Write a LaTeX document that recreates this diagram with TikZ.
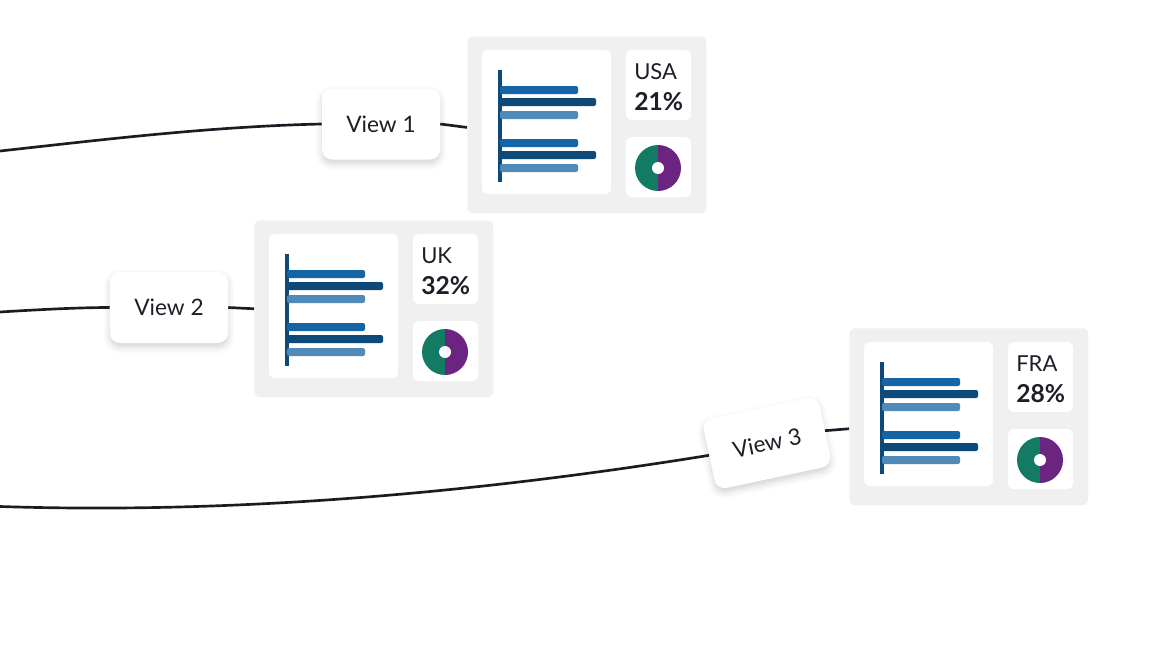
\documentclass[tikz,border=0pt]{standalone}
\usepackage{fontspec}
\setmainfont{Lato}
\usetikzlibrary{shadows.blur}

\definecolor{garis}{HTML}{1B1B23}
\definecolor{teks}{HTML}{1E1E28}
\definecolor{abu}{HTML}{F0F0F0}
\definecolor{biruA}{HTML}{1565A6}
\definecolor{biruB}{HTML}{0D4A7A}
\definecolor{biruC}{HTML}{4F8AB9}
\definecolor{hijau}{HTML}{137A63}
\definecolor{ungu}{HTML}{6B2480}

\tikzset{
  kartubg/.style={anchor=north west, fill=abu, rounded corners=4.5pt, inner sep=0pt,
    minimum width=179.25pt, minimum height=132.75pt},
  panel/.style={fill=white, rounded corners=4.5pt},
  viewbox/.style={fill=white, rounded corners=7.5pt, minimum width=88.5pt, minimum height=53.25pt,
    text=teks, font=\fontsize{17}{20}\selectfont,
    blur shadow={shadow xshift=0pt, shadow yshift=-3pt, shadow blur radius=5pt, shadow opacity=18}},
  negara/.style={anchor=base west, inner sep=0pt, text=teks, font=\fontsize{16.5}{19}\selectfont},
  persen/.style={anchor=base west, inner sep=0pt, text=teks, font=\fontsize{18.5}{22}\selectfont\bfseries},
  garisview/.style={draw=garis, line width=2pt}
}

% kartu: nama, x, y, negara, persen
\newcommand{\kartu}[5]{%
  \begin{scope}[shift={(#2,#3)}]
    \node[kartubg] (#1) at (0,0) {};
    % panel putih
    \fill[panel] (15,14) rectangle (144,158);
    \fill[panel] (159,14) rectangle (224,84);
    \fill[panel] (159,101) rectangle (224,161);
    % grafik batang
    \fill[biruB] (31,34) rectangle (35,146);
    \foreach \y/\w/\c in {54/111/biruA, 66/129/biruB, 79/111/biruC,
                          107/111/biruA, 119/129/biruB, 132/111/biruC}
      \fill[\c, rounded corners=1.5pt] (33,\y-4) rectangle (\w,\y+4);
    % teks
    \node[negara] (#1-n) at (167,43) {#4};
    \node[persen] (#1-p) at (167,74) {#5};
    % donat
    \fill[hijau] (191,132) ++(90:23) arc (90:270:23) -- cycle;
    \fill[ungu] (191,132) ++(270:23) arc (270:450:23) -- cycle;
    \fill[white] (191,132) circle (6);
  \end{scope}}

\begin{document}
\begin{tikzpicture}[x=0.75pt, y=-0.75pt]
  \useasboundingbox (0,0) rectangle (1171,646);

  % Kartu
  \kartu{k1}{467}{36}{USA}{21\%}
  \kartu{k2}{254}{220}{UK}{32\%}
  \kartu{k3}{849}{328}{FRA}{28\%}

  % View
  \node[viewbox] (v1) at (381,124) {View 1};
  \node[viewbox] (v2) at (169,307.5) {View 2};
  \node[viewbox, rotate=12] (v3) at (767,443) {View 3};

  % Garis
  \coordinate (a1) at (0,151);
  \coordinate (a2) at (0,312);
  \coordinate (a3) at (0,506.5);
  \draw[garisview] (a1) .. controls (100,140) and (210,126.5) .. (v1.west);
  \draw[garisview] (v1.east) -- ([yshift=-2pt]k1.west);
  \draw[garisview] (a2) .. controls (40,309.5) and (80,307.5) .. (v2.west);
  \draw[garisview] (v2.east) -- (k2.west);
  \draw[garisview] (a3) .. controls (230,514) and (470,494) .. (v3.west);
  \draw[garisview] (v3.east) -- ([yshift=-9pt]k3.west);
\end{tikzpicture}
\end{document}
